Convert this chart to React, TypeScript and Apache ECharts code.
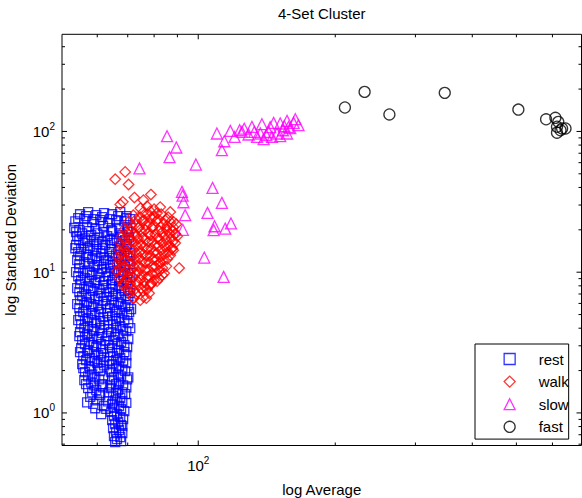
import { useEffect, useRef } from 'react';
import * as echarts from 'echarts';

const FONT = '"Liberation Sans", Arial, Helvetica, sans-serif';

// Axis limits (log scales)
const X_MIN = 50.2;
const X_MAX = 695;
const Y_MIN = 0.587;
const Y_MAX = 490;

// Tick positions drawn on all four sides of the box
const X_MAJOR_TICKS = [100];
const X_MINOR_TICKS = [60, 70, 80, 90, 200, 300, 400, 500, 600];
const Y_MAJOR_TICKS = [1, 10, 100];
const Y_MINOR_TICKS = [0.6, 0.7, 0.8, 0.9, 2, 3, 4, 5, 6, 7, 8, 9, 20, 30, 40, 50, 60, 70, 80, 90, 200, 300, 400];

const SERIES_NAMES = ['rest', 'walk', 'slow', 'fast'];

// [average, standard deviation]
const rest: number[][] = [
  [55.0, 25.8], [57.3, 26.7], [59.7, 25.4], [62.1, 26.3], [64.7, 25.8], [67.4, 26.7], [69.5, 25.0],
  [53.7, 23.0], [56.2, 23.8], [58.5, 22.7], [60.9, 23.4], [63.4, 22.3], [66.0, 23.4], [68.8, 23.0], [70.9, 23.8],
  [53.4, 20.6], [54.8, 19.9], [57.0, 20.9], [59.4, 20.2], [61.8, 21.3], [64.4, 19.9], [67.0, 20.6], [69.8, 20.2],
  [54.2, 18.0], [56.4, 17.4], [58.2, 18.3], [60.6, 17.7], [63.1, 18.0], [65.3, 17.4], [68.1, 18.3], [70.5, 17.7],
  [53.9, 15.6], [55.9, 16.1], [57.9, 15.3], [60.0, 15.8], [62.5, 15.6], [64.7, 16.1], [67.4, 15.3], [69.8, 15.8],
  [54.5, 13.9], [56.7, 13.4], [58.8, 14.1], [61.2, 13.6], [63.7, 13.9], [66.0, 13.4], [68.8, 14.1], [70.9, 13.6],
  [54.2, 12.2], [56.2, 11.8], [58.5, 12.4], [60.6, 12.0], [62.8, 12.2], [65.0, 11.8], [67.7, 12.4], [70.2, 12.0],
  [54.8, 10.7], [57.0, 10.3], [59.1, 10.9], [61.5, 10.5], [64.0, 10.7], [66.7, 10.3], [69.1, 10.9],
  [54.5, 9.36], [56.4, 9.06], [58.5, 9.52], [60.9, 9.21], [63.4, 9.36], [65.7, 9.06], [68.4, 9.52], [70.9, 9.21],
  [55.0, 8.22], [57.3, 7.95], [59.4, 8.35], [61.8, 8.08], [64.4, 8.22], [67.0, 7.95], [69.5, 8.35],
  [54.8, 7.21], [56.7, 6.98], [58.8, 7.33], [61.2, 7.09], [63.7, 7.21], [66.0, 6.98], [68.8, 7.33], [70.9, 7.09],
  [55.0, 6.33], [57.0, 6.13], [59.4, 6.43], [61.8, 6.23], [64.4, 6.33], [66.7, 6.13], [69.5, 6.43],
  [54.8, 5.56], [56.7, 5.37], [58.8, 5.65], [61.2, 5.47], [64.0, 5.56], [66.3, 5.37], [69.1, 5.65], [71.2, 5.47],
  [55.0, 4.87], [57.3, 4.71], [59.4, 4.95], [61.8, 4.79], [64.7, 4.87], [67.0, 4.71], [69.8, 4.95],
  [55.3, 4.27], [57.3, 4.13], [59.7, 4.34], [62.1, 4.20], [65.0, 4.27], [67.4, 4.13], [70.2, 4.34],
  [55.0, 3.75], [57.0, 3.63], [59.1, 3.81], [61.5, 3.69], [64.4, 3.75], [66.7, 3.63], [69.5, 3.81],
  [55.6, 3.29], [57.6, 3.19], [60.0, 3.35], [62.5, 3.24], [65.0, 3.29], [67.7, 3.19], [70.2, 3.35],
  [55.3, 2.89], [57.3, 2.79], [59.7, 2.94], [61.8, 2.84], [64.7, 2.89], [67.0, 2.79], [69.8, 2.94],
  [55.9, 2.53], [57.9, 2.45], [60.3, 2.57], [62.1, 2.49], [65.0, 2.53], [67.4, 2.45], [69.5, 2.57],
  [55.6, 2.22], [57.6, 2.15], [60.0, 2.26], [62.1, 2.18], [64.7, 2.22], [67.0, 2.15], [69.5, 2.26],
  [56.4, 1.95], [58.5, 1.88], [60.9, 1.98], [64.4, 1.95], [66.7, 1.88], [69.1, 1.98],
  [56.2, 1.71], [58.2, 1.65], [60.6, 1.73], [64.7, 1.71], [67.0, 1.65], [69.8, 1.73],
  [57.3, 1.50], [59.7, 1.45], [61.8, 1.52], [64.4, 1.50], [66.7, 1.45], [69.5, 1.52],
  [57.9, 1.30], [60.9, 1.34], [65.0, 1.32], [67.4, 1.28], [69.1, 1.36],
  [58.8, 1.16], [62.1, 1.12], [64.7, 1.16], [67.0, 1.12], [69.5, 1.18],
  [61.2, 0.98], [64.4, 1.02], [66.3, 0.98], [68.8, 1.03],
  [64.7, 0.889], [66.7, 0.86], [68.4, 0.903],
  [65.0, 0.78], [67.0, 0.754], [68.1, 0.806],
  [65.3, 0.684], [67.4, 0.673],
  [65.7, 0.62], [67.7, 0.63],
  [57.0, 1.19], [59.4, 1.08],
  [54.5, 24.2], [56.7, 25.0], [59.1, 23.8], [61.5, 24.6], [64.0, 23.8], [66.7, 25.0], [69.5, 24.2],
  [53.9, 19.3], [55.6, 18.9], [57.6, 19.6], [60.0, 18.9], [62.1, 19.3], [64.7, 19.6], [67.4, 18.9], [70.2, 19.3],
  [54.8, 16.9], [57.0, 16.6], [59.1, 16.9], [61.5, 16.4], [64.0, 16.9], [66.3, 16.6], [69.1, 16.9],
  [53.7, 14.8], [55.3, 14.6], [57.3, 14.8], [59.7, 14.6], [61.8, 14.8], [64.4, 14.6], [67.0, 14.8], [69.5, 14.6],
  [55.0, 13.0], [57.3, 12.8], [59.7, 13.0], [62.1, 12.6], [64.7, 13.0], [67.0, 12.8], [69.8, 13.0],
  [54.8, 11.4], [57.6, 11.4], [60.0, 11.2], [62.1, 11.4], [64.0, 11.2], [66.3, 11.4], [68.8, 11.2], [70.9, 11.4],
  [53.9, 10.0], [55.9, 9.84], [57.9, 10.0], [60.3, 9.84], [62.8, 10.0], [65.3, 9.84], [67.7, 10.0], [70.2, 9.84],
  [55.3, 8.77], [57.6, 8.63], [59.7, 8.77], [62.1, 8.63], [64.7, 8.77], [67.0, 8.63], [69.8, 8.77],
  [54.2, 7.70], [56.2, 7.57], [58.2, 7.70], [60.6, 7.57], [62.8, 7.70], [65.0, 7.57], [67.7, 7.70], [70.2, 7.57],
  [55.6, 6.75], [57.9, 6.64], [60.3, 6.75], [62.8, 6.64], [65.0, 6.75], [67.7, 6.64], [70.2, 6.75],
  [54.2, 5.93], [56.2, 5.83], [58.2, 5.93], [60.3, 5.83], [62.8, 5.93], [65.3, 5.83], [67.7, 5.93], [70.2, 5.83],
  [55.9, 5.20], [58.2, 5.11], [60.6, 5.20], [63.1, 5.11], [65.7, 5.20], [68.1, 5.11], [70.5, 5.20],
  [54.5, 4.56], [56.4, 4.49], [58.5, 4.56], [60.9, 4.49], [63.4, 4.56], [66.0, 4.49], [68.8, 4.56],
  [56.2, 4.00], [58.5, 3.93], [60.9, 4.00], [63.4, 3.93], [66.0, 4.00], [68.4, 3.93], [70.9, 4.00],
  [54.8, 3.51], [56.4, 3.46], [58.5, 3.51], [60.6, 3.46], [63.1, 3.51], [65.7, 3.46], [68.4, 3.51],
  [56.4, 3.08], [58.8, 3.03], [61.2, 3.08], [63.7, 3.03], [66.3, 3.08], [68.8, 3.03],
  [55.0, 2.70], [57.0, 2.66], [59.1, 2.70], [61.2, 2.66], [64.0, 2.70], [66.3, 2.66], [68.8, 2.70],
  [56.7, 2.37], [59.1, 2.33], [61.2, 2.37], [63.7, 2.33], [66.0, 2.37], [68.4, 2.33],
  [55.9, 2.08], [57.9, 2.04], [60.3, 2.08], [64.0, 2.04], [66.0, 2.08], [68.1, 2.04],
  [57.3, 1.82], [59.4, 1.79], [61.8, 1.82], [65.3, 1.79], [67.7, 1.82], [70.2, 1.79],
  [56.7, 1.60], [59.1, 1.57], [61.5, 1.60], [64.0, 1.57], [66.0, 1.60], [68.4, 1.57],
  [58.5, 1.40], [60.6, 1.38], [63.7, 1.40], [66.0, 1.38], [68.1, 1.40],
  [60.0, 1.23], [63.4, 1.21], [65.7, 1.23], [68.1, 1.21],
  [62.8, 1.07], [65.3, 1.085], [67.7, 1.07],
  [65.3, 0.948], [67.4, 0.933],
  [65.7, 0.832], [67.7, 0.819],
  [66.0, 0.730], [68.1, 0.718],
  [66.3, 0.651],
];

const walk: number[][] = [
  [65.7, 45.8], [69.1, 51.6], [70.3, 42.0], [72.4, 33.9], [75.8, 32.5], [78.7, 35.6], [67.4, 30.3], [68.3, 31.6],
  [90.8, 10.7], [78.4, 8.08], [75.8, 6.68], [72.1, 6.50], [86.8, 26.8], [88.2, 22.8], [89.0, 18.8], [87.5, 14.7], [82.5, 11.8],
  [74.6, 28.5], [77.2, 29.4], [80.0, 28.0], [82.5, 29.0],
  [72.0, 25.4], [74.6, 24.6], [77.2, 25.8], [80.0, 25.0], [82.9, 25.8], [85.9, 24.6],
  [70.2, 22.7], [72.7, 21.9], [75.3, 23.0], [78.0, 22.3], [80.8, 23.0], [83.8, 21.9], [86.8, 22.7], [89.5, 21.9],
  [68.8, 20.2], [71.2, 19.6], [73.8, 20.6], [76.5, 19.9], [79.2, 20.6], [82.1, 19.6], [85.1, 20.2], [88.1, 19.6],
  [68.1, 18.0], [70.5, 17.4], [73.1, 18.3], [75.7, 17.7], [78.4, 18.3], [81.2, 17.4], [84.2, 18.0], [87.2, 17.4], [89.9, 18.0],
  [67.4, 16.1], [69.8, 15.6], [72.3, 16.4], [74.9, 15.8], [77.6, 16.4], [80.4, 15.6], [83.4, 16.1], [86.4, 15.6], [89.0, 16.1],
  [67.0, 14.3], [69.5, 13.9], [72.0, 14.5], [74.6, 14.1], [77.2, 14.5], [80.0, 13.9], [82.9, 14.3], [85.9, 13.9], [88.1, 14.3],
  [66.7, 12.8], [69.1, 12.4], [71.6, 13.0], [74.2, 12.6], [76.9, 13.0], [79.6, 12.4], [82.5, 12.8], [85.5, 12.4],
  [66.3, 11.4], [68.8, 11.0], [71.2, 11.6], [73.8, 11.2], [76.5, 11.6], [79.2, 11.0], [82.1, 11.4], [85.1, 11.0],
  [66.3, 10.2], [68.8, 9.84], [71.2, 10.3], [73.8, 10.0], [76.5, 10.3], [79.2, 9.84], [82.1, 10.2], [84.2, 9.84],
  [67.0, 9.06], [69.5, 8.77], [72.0, 9.21], [74.6, 8.91], [77.2, 9.21], [80.0, 8.77], [82.1, 9.06],
  [68.4, 8.08], [70.9, 7.82], [73.4, 8.22], [76.1, 7.95], [78.8, 8.22],
  [70.5, 7.21], [73.1, 6.98], [75.7, 7.33], [78.0, 7.09],
  [72.0, 6.54], [74.6, 6.33], [76.9, 6.54],
  [75.7, 26.7], [78.4, 27.1], [81.2, 26.3],
  [73.1, 23.8], [76.1, 23.4], [78.8, 24.2], [81.7, 23.8], [84.6, 23.4],
  [71.2, 21.3], [74.2, 20.9], [76.9, 21.6], [79.6, 21.3], [82.5, 20.9], [85.5, 21.3], [88.1, 20.9],
  [69.8, 18.9], [72.3, 18.6], [74.9, 19.3], [77.6, 18.9], [80.4, 18.6], [83.4, 19.3], [86.4, 18.9], [89.0, 18.6],
  [68.8, 16.9], [71.2, 16.6], [73.8, 17.2], [76.5, 16.9], [79.2, 16.6], [82.1, 17.2], [85.1, 16.9], [88.1, 16.6],
  [68.1, 15.1], [70.9, 14.8], [73.4, 15.3], [76.1, 15.1], [78.8, 14.8], [81.7, 15.3], [84.6, 15.1], [87.7, 14.8],
  [67.7, 13.4], [70.5, 13.2], [73.1, 13.6], [75.7, 13.4], [78.4, 13.2], [81.2, 13.6], [84.2, 13.4], [86.8, 13.2],
  [67.4, 12.0], [70.2, 11.8], [72.7, 12.2], [75.3, 12.0], [78.0, 11.8], [80.8, 12.2], [83.8, 12.0],
  [67.4, 10.7], [69.8, 10.5], [72.3, 10.9], [74.9, 10.7], [77.6, 10.5], [80.4, 10.9], [83.4, 10.7],
  [67.7, 9.52], [70.2, 9.36], [72.7, 9.68], [75.3, 9.52], [78.0, 9.36], [80.8, 9.68], [83.4, 9.52],
  [68.4, 8.49], [70.9, 8.35], [73.4, 8.63], [76.1, 8.49], [78.8, 8.35], [81.2, 8.63],
  [69.8, 7.57], [72.3, 7.45], [74.9, 7.70], [77.2, 7.57],
];

const slow: number[][] = [
  [74.3, 54.6], [85.4, 92.5], [89.5, 76.9], [86.5, 65.6], [98.8, 58.2],
  [92.1, 37.2], [92.4, 35.0], [92.8, 31.4], [93.6, 25.4], [92.5, 20.0],
  [104.8, 26.4], [107.5, 39.7], [112.7, 31.1], [108.6, 21.2], [108.1, 19.9], [114.6, 20.4], [118.0, 22.2],
  [103.1, 12.7], [113.7, 9.26],
  [109.9, 96.7], [114.1, 85.2], [112.7, 73.6], [117.6, 101], [123.3, 102], [120.2, 91.5], [124.7, 99.3],
  [131.2, 107.7], [138.0, 112.6], [129.0, 95.1], [134.6, 91.5], [139.2, 88.1], [142.7, 99.3],
  [146.4, 115.0], [151.4, 113.9], [156.7, 118.8], [153.5, 102], [148.9, 96.7], [145.2, 91.5],
  [156.7, 96.7], [162.0, 115.0], [166.1, 110.8], [154.5, 109], [157.9, 107.7], [151.4, 92.5],
  [136.9, 96.7], [132.8, 99.3], [159.3, 105.5], [143.9, 107.2], [163.4, 122.2], [126.2, 104.6], [141.1, 94.1],
];

const fast: number[][] = [
  [210, 148], [232, 191], [263, 132], [348, 188], [505, 143], [581, 122],
  [609, 125], [618, 117], [614, 108], [630, 105], [641, 105], [614, 98], [625, 102],
];

// Tick marks as data: [x, y, side (0 = x axis, 1 = y axis), length]
const tickData: number[][] = [
  ...X_MAJOR_TICKS.map((v) => [v, Y_MIN, 0, 5]),
  ...X_MINOR_TICKS.map((v) => [v, Y_MIN, 0, 3]),
  ...Y_MAJOR_TICKS.map((v) => [X_MIN, v, 1, 5]),
  ...Y_MINOR_TICKS.map((v) => [X_MIN, v, 1, 3]),
];

const powerLabel = (v: number) => {
  const e = Math.log10(v);
  const r = Math.round(e);
  if (Math.abs(e - r) > 1e-6) return '';
  return `{base|10}{exp|${r}}`;
};

const labelRich = {
  base: { fontSize: 15, fontFamily: FONT, color: '#000', lineHeight: 20, verticalAlign: 'middle' },
  exp: { fontSize: 10, fontFamily: FONT, color: '#000', lineHeight: 10, verticalAlign: 'top' },
};

const markerSeries = (name: string, data: number[][], symbol: string, size: number, color: string) => ({
  type: 'scatter',
  name,
  data,
  symbol,
  symbolSize: size,
  symbolKeepAspect: true,
  itemStyle: { color: 'rgba(0,0,0,0)', borderColor: color, borderWidth: 1.3 },
  emphasis: { disabled: true },
  silent: true,
});

export default function App() {
  const ref = useRef<HTMLDivElement>(null);

  useEffect(() => {
    if (!ref.current) return;
    const chart = echarts.init(ref.current, undefined, { renderer: 'svg' });
    chart.setOption({
      animation: false,
      backgroundColor: '#fff',
      textStyle: { fontFamily: FONT },
      title: {
        text: '4-Set Cluster',
        left: 321.75,
        top: 6,
        textAlign: 'center',
        padding: 0,
        textStyle: { fontSize: 15, fontWeight: 'normal', color: '#000', fontFamily: FONT },
      },
      grid: {
        left: 62,
        top: 34.3,
        width: 519.5,
        height: 411.2,
        show: true,
        borderColor: '#000',
        borderWidth: 1,
        backgroundColor: 'rgba(0,0,0,0)',
        containLabel: false,
        outerBoundsMode: 'none',
      },
      legend: {
        orient: 'vertical',
        left: 475,
        top: 344,
        padding: [7.5, 0, 4.8, 28.5],
        itemGap: 7.6,
        itemWidth: 11,
        itemHeight: 11,
        borderColor: '#000',
        borderWidth: 1,
        borderRadius: 0,
        backgroundColor: '#fff',
        data: SERIES_NAMES,
        itemStyle: { borderWidth: 1.3 },
        formatter: (name: string) => `{gap|}{t|${name}}`,
        textStyle: {
          fontSize: 15,
          color: '#000',
          fontFamily: FONT,
          rich: {
            gap: { width: 18.5 },
            t: { fontSize: 15, color: '#000', fontFamily: FONT },
          },
        },
        selectedMode: false,
      },
      xAxis: {
        type: 'log',
        logBase: 10,
        min: X_MIN,
        max: X_MAX,
        name: 'log Average',
        nameLocation: 'middle',
        nameGap: 36,
        nameTextStyle: { fontSize: 15, color: '#000', fontFamily: FONT },
        axisLine: { show: false },
        axisTick: { show: false },
        splitLine: { show: false },
        axisLabel: { formatter: powerLabel, rich: labelRich, margin: 9.5, color: '#000' },
      },
      yAxis: {
        type: 'log',
        logBase: 10,
        min: Y_MIN,
        max: Y_MAX,
        name: 'log Standard Deviation',
        nameLocation: 'middle',
        nameGap: 44,
        nameTextStyle: { fontSize: 15, color: '#000', fontFamily: FONT },
        axisLine: { show: false },
        axisTick: { show: false },
        splitLine: { show: false },
        axisLabel: { formatter: powerLabel, rich: labelRich, margin: 7, color: '#000' },
      },
      series: [
        markerSeries('rest', rest, 'rect', 9, '#0000ff'),
        markerSeries('walk', walk, 'diamond', 10.5, '#ff0000'),
        markerSeries('slow', slow, 'triangle', 11, '#ff00ff'),
        markerSeries('fast', fast, 'circle', 11, '#000000'),
        {
          type: 'custom',
          name: 'ticks',
          silent: true,
          z: 5,
          data: tickData,
          renderItem: (params: any, api: any) => {
            const cs = params.coordSys;
            const side = api.value(2);
            const len = api.value(3);
            const p = api.coord([api.value(0), api.value(1)]);
            const style = { stroke: '#000', lineWidth: 1 };
            if (side === 0) {
              const x = p[0];
              const b = cs.y + cs.height;
              const t = cs.y;
              return {
                type: 'group',
                children: [
                  { type: 'line', shape: { x1: x, y1: b, x2: x, y2: b - len }, style },
                  { type: 'line', shape: { x1: x, y1: t, x2: x, y2: t + len }, style },
                ],
              };
            }
            const y = p[1];
            const l = cs.x;
            const r = cs.x + cs.width;
            return {
              type: 'group',
              children: [
                { type: 'line', shape: { x1: l, y1: y, x2: l + len, y2: y }, style },
                { type: 'line', shape: { x1: r, y1: y, x2: r - len, y2: y }, style },
              ],
            };
          },
        },
      ],
    });
    return () => chart.dispose();
  }, []);

  return (
    <div
      ref={ref}
      style={{ position: 'fixed', left: 0, top: 0, width: 582, height: 498, background: '#fff' }}
    />
  );
}
